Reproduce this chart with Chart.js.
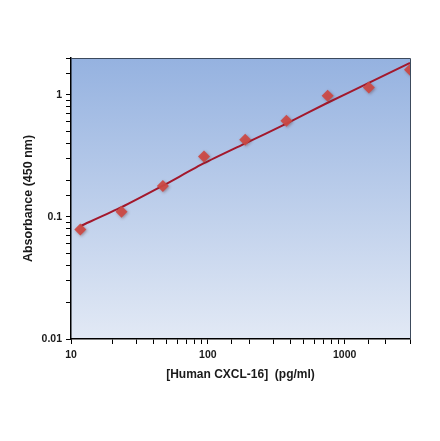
<!DOCTYPE html>
<html lang="en">
<head>
  <meta charset="UTF-8" />
  <title>CXCL-16 standard curve</title>
  <script src="https://cdn.jsdelivr.net/npm/chart.js"></script>
  <style>
    html, body { margin: 0; padding: 0; background: #fff; }
    #wrap { width: 440px; height: 441px; }
  </style>
</head>
<body>
  <div id="wrap"><canvas id="chart" width="440" height="441"></canvas></div>

  <script>
    // standard concentrations (pg/ml)
    const conc = [11.7, 23.4, 46.9, 93.75, 187.5, 375, 750, 1500, 3000];
    // measured absorbance at 450 nm
    const absorbance = [0.079, 0.110, 0.179, 0.312, 0.428, 0.612, 0.98, 1.148, 1.60];
    // fitted curve
    const fitConc = [11.7, 23.4, 46.9, 93.75, 187.5, 375, 750, 1500, 3000];
    const fitAbs = [0.084, 0.120, 0.180, 0.275, 0.400, 0.580, 0.860, 1.25, 1.82];

    const xTitle = '[Human CXCL-16]  (pg/ml)';
    const yTitle = 'Absorbance (450 nm)';

    const isDecade = v => Math.abs(Math.log10(v) - Math.round(Math.log10(v))) < 1e-6;
    const tickFont = { family: 'Liberation Sans', size: 10.5, weight: 'bold' };

    const plotBackground = {
      id: 'plotBackground',
      beforeDraw(chart) {
        const { ctx, chartArea: a } = chart;
        const g = ctx.createLinearGradient(0, a.top, 0, a.bottom);
        g.addColorStop(0, '#95b2e0');
        g.addColorStop(1, '#e2e9f5');
        ctx.save();
        ctx.fillStyle = g;
        ctx.fillRect(a.left, a.top, a.right - a.left, a.bottom - a.top);
        ctx.restore();
      },
      afterDraw(chart) {
        const { ctx, chartArea: a } = chart;
        ctx.save();
        ctx.strokeStyle = '#3c4a5c';
        ctx.lineWidth = 1;
        ctx.beginPath();
        ctx.moveTo(a.left, a.top + 0.5);
        ctx.lineTo(a.right + 0.5, a.top + 0.5);
        ctx.lineTo(a.right + 0.5, a.bottom);
        ctx.stroke();
        ctx.restore();
      },
      beforeDatasetDraw(chart, args) {
        if (args.index === 1) {
          const ctx = chart.ctx;
          ctx.save();
          ctx.shadowColor = 'rgba(90,40,40,0.45)';
          ctx.shadowBlur = 3;
          ctx.shadowOffsetX = 1;
          ctx.shadowOffsetY = 1;
        }
      },
      afterDatasetDraw(chart, args) {
        if (args.index === 1) chart.ctx.restore();
      }
    };

    new Chart(document.getElementById('chart'), {
      data: {
        datasets: [{
          type: 'line',
          data: fitConc.map((x, i) => ({ x: x, y: fitAbs[i] })),
          borderColor: '#a3182c',
          borderWidth: 2,
          pointRadius: 0,
          tension: 0.2,
          order: 2
        }, {
          type: 'scatter',
          data: conc.map((x, i) => ({ x: x, y: absorbance[i] })),
          pointStyle: 'rectRot',
          pointRadius: 6,
          backgroundColor: 'rgba(205,72,66,0.92)',
          borderColor: 'rgba(205,72,66,0.92)',
          borderWidth: 0,
          order: 1
        }]
      },
      options: {
        responsive: false,
        animation: false,
        layout: { padding: { left: 13, top: 58, right: 30, bottom: 55 } },
        plugins: { legend: { display: false }, tooltip: { enabled: false } },
        scales: {
          x: {
            type: 'logarithmic',
            min: 10,
            max: 3000,
            afterFit: s => { s.height = 47; },
            border: { color: '#000', width: 1.5 },
            grid: { drawOnChartArea: false, tickLength: 5, color: '#000', lineWidth: 1 },
            ticks: {
              autoSkip: false,
              maxRotation: 0,
              color: '#1a1a1a',
              font: tickFont,
              padding: 5,
              callback: v => isDecade(v) ? String(v) : ''
            },
            title: { display: true, text: xTitle, color: '#1a1a1a',
                     font: { family: 'Liberation Sans', size: 12, weight: 'bold' }, padding: { top: 8 } }
          },
          y: {
            type: 'logarithmic',
            min: 0.01,
            max: 2,
            afterFit: s => { s.width = 58; },
            border: { color: '#000', width: 1.5 },
            grid: { drawOnChartArea: false, tickLength: 5, color: '#000', lineWidth: 1 },
            ticks: {
              autoSkip: false,
              color: '#1a1a1a',
              font: tickFont,
              padding: 4,
              callback: v => isDecade(v) ? String(v) : ''
            },
            title: { display: true, text: yTitle, color: '#1a1a1a',
                     font: { family: 'Liberation Sans', size: 12.5, weight: 'bold' }, padding: { top: 8 } }
          }
        }
      },
      plugins: [plotBackground]
    });
  </script>
</body>
</html>
